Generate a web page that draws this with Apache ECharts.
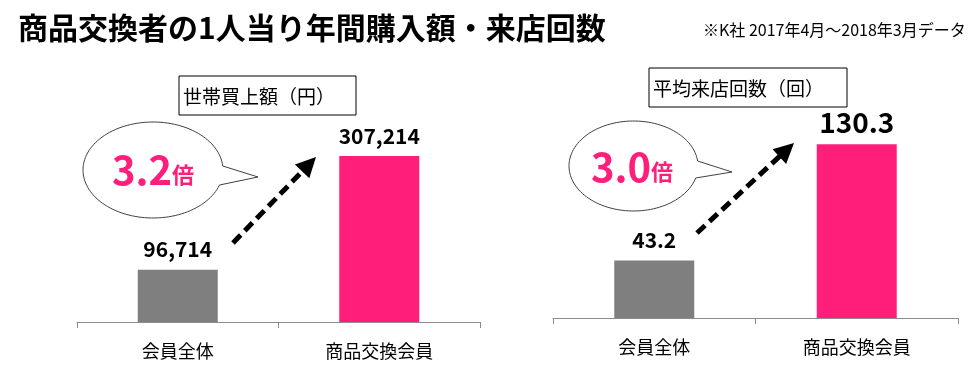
<!DOCTYPE html>
<html><head><meta charset="utf-8">
<script src="https://cdn.jsdelivr.net/npm/echarts@6/dist/echarts.min.js"></script>
<style>html,body{margin:0;padding:0;background:#fff}#c{width:980px;height:366px}</style>
</head><body><div id="c"></div>
<script>
const categories = ['会員全体', '商品交換会員'];
const spendValues = [96714, 307214];
const visitValues = [43.2, 130.3];
const spendTitle = '世帯買上額（円）';
const visitTitle = '平均来店回数（回）';
const spendRatio = '3.2';
const visitRatio = '3.0';
const mainTitle = '商品交換者の1人当り年間購入額・来店回数';
const noteText = '※K社 2017年4月～2018年3月データ';

const GRAY = '#7f7f7f', PINK = '#ff1f7a';
const FONT = '"Noto Sans CJK JP", sans-serif';

function arrow(x1, y1, x2, y2) {
  const dx = x2 - x1, dy = y2 - y1, L = Math.hypot(dx, dy);
  const ux = dx / L, uy = dy / L, px = -uy, py = ux;
  const hl = 20, hw = 10;
  const bx = x2 - ux * hl, by = y2 - uy * hl;
  return [
    { type: 'line', shape: { x1, y1, x2: bx + ux * 2, y2: by + uy * 2 },
      style: { stroke: '#000', lineWidth: 5, lineDash: [11, 6] } },
    { type: 'polygon', shape: { points: [[x2, y2], [bx + px * hw, by + py * hw], [bx - px * hw, by - py * hw]] },
      style: { fill: '#000' } }
  ];
}
function bubble(cx, cy, rx, ry, yTop, yBot, tipX, tipY) {
  const a1 = Math.asin((yTop - cy) / ry);
  const a2 = Math.asin((yBot - cy) / ry);
  const pts = [];
  const N = 120;
  const start = a1, end = a2 - 2 * Math.PI;
  for (let i = 0; i <= N; i++) {
    const t = start + (end - start) * i / N;
    pts.push([cx + rx * Math.cos(t), cy + ry * Math.sin(t)]);
  }
  pts.push([tipX, tipY]);
  return { type: 'polygon', shape: { points: pts },
    style: { fill: '#fff', stroke: '#404040', lineWidth: 1 } };
}
function ratioText(cx, cy, val) {
  return { type: 'text', x: cx, y: cy, style: {
    text: `{a|${val}}{b|倍}`, align: 'center', verticalAlign: 'middle',
    rich: { a: { fontSize: 40, fontWeight: 'bold', fill: PINK, fontFamily: FONT },
            b: { fontSize: 22, fontWeight: 'bold', fill: PINK, fontFamily: FONT, padding: [10, 0, 0, 0] } } } };
}
function boxTitle(x, y, w, h, txt) {
  return [
    { type: 'rect', shape: { x, y, width: w, height: h }, style: { fill: '#fff', stroke: '#000', lineWidth: 1 } },
    { type: 'text', x: x + 4, y: y + h / 2 + 1, style: { text: txt, align: 'left', verticalAlign: 'middle', fontSize: 19, fill: '#000', fontFamily: FONT } }
  ];
}

const axisCommon = {
  type: 'category', data: categories,
  axisLine: { lineStyle: { color: '#8c8c8c', width: 1 } },
  axisTick: { show: true, length: 6, lineStyle: { color: '#8c8c8c' } },
  axisLabel: { color: '#000', fontSize: 18, margin: 20, fontFamily: FONT }
};
const yCommon = { type: 'value', min: 0, show: false, splitLine: { show: false } };

const chart = echarts.init(document.getElementById('c'), null, { renderer: 'canvas' });
chart.setOption({
  animation: false,
  grid: [
    { left: 77, right: 500, top: 133, bottom: 44 },
    { left: 553, right: 22, top: 118, bottom: 48 }
  ],
  xAxis: [
    Object.assign({ gridIndex: 0 }, axisCommon),
    Object.assign({ gridIndex: 1 }, axisCommon)
  ],
  yAxis: [
    Object.assign({ gridIndex: 0, max: 350000 }, yCommon),
    Object.assign({ gridIndex: 1, max: 150 }, yCommon)
  ],
  series: [
    { type: 'bar', xAxisIndex: 0, yAxisIndex: 0, barWidth: 80,
      data: spendValues.map((v, i) => ({ value: v, itemStyle: { color: i === 0 ? GRAY : PINK } })),
      label: { show: true, position: 'top', distance: 10, fontSize: 21, fontWeight: 'bold', color: '#000', fontFamily: FONT,
        formatter: p => p.value.toLocaleString('en-US') } },
    { type: 'bar', xAxisIndex: 1, yAxisIndex: 1, barWidth: 80,
      data: visitValues.map((v, i) => ({ value: v, itemStyle: { color: i === 0 ? GRAY : PINK },
        label: i === 1 ? { fontSize: 28, distance: 8 } : {} })),
      label: { show: true, position: 'top', distance: 10, fontSize: 21, fontWeight: 'bold', color: '#000', fontFamily: FONT,
        formatter: p => p.value.toFixed(1) } }
  ],
  graphic: [
    { type: 'text', x: 18, y: 28, style: { text: mainTitle, verticalAlign: 'middle', fontSize: 30, fontWeight: 'bold', fill: '#000', fontFamily: FONT } },
    { type: 'text', x: 703, y: 30, style: { text: noteText, align: 'left', verticalAlign: 'middle', fontSize: 16, fill: '#000', fontFamily: FONT } },
    ...boxTitle(179, 76, 177, 39, spendTitle),
    ...boxTitle(649, 68, 198, 39, visitTitle),
    bubble(153, 170, 70, 48, 166, 185, 258, 177),
    ratioText(153, 170, spendRatio),
    bubble(633.5, 166, 64.5, 45, 161, 178, 732, 172),
    ratioText(632, 167, visitRatio),
    ...arrow(233, 243, 316, 157),
    ...arrow(697, 233, 794, 143)
  ]
});
</script></body></html>
